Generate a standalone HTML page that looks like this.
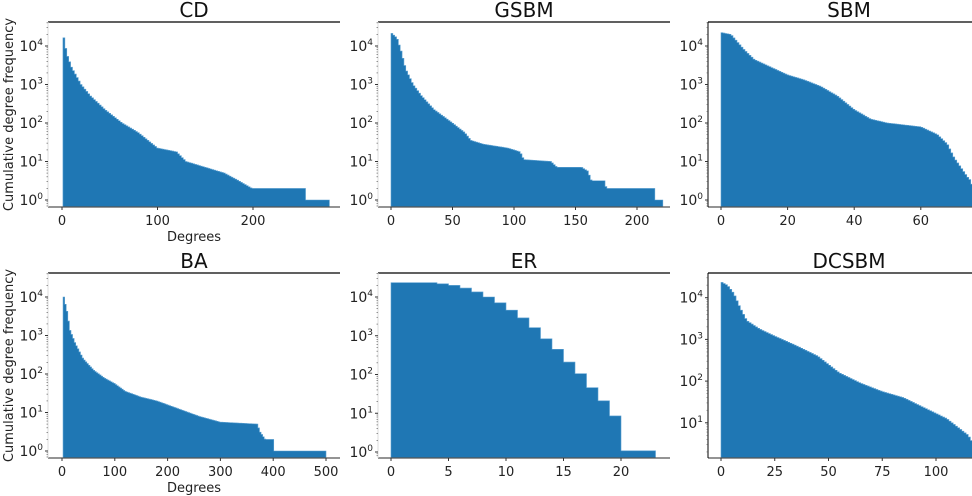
<!DOCTYPE html>
<html><head><meta charset="utf-8"><style>
html,body{margin:0;padding:0;background:#fff;}
svg{display:block;font-family:"DejaVu Sans","Liberation Sans",sans-serif;}
</style></head><body>
<svg id="s" width="972" height="496" viewBox="0 0 972 496" xmlns="http://www.w3.org/2000/svg"></svg>
<script>
const S=document.getElementById('s');
let h='';
function P(o){
 // o: ax [x0,x1,top,bot], xm:[deg0px, pxPerUnit], ym:[y10^0px, pxPerDecade], pts, bin, ticks, title, xmax, dark
 const [L,R,T,B]=o.ax;
 const X=d=>o.xm[0]+d*o.xm[1], Y=l=>o.ym[0]-l*o.ym[1];
 h+=`<clipPath id="c${o.id}"><rect x="${L}" y="${T}" width="${R-L}" height="${B-T}"/></clipPath>`;
 // data path
 let d='';
 if(o.steps){
   d=`M${X(o.steps[0][0])},${B}`;
   for(const [a,b,l] of o.steps){d+=`L${X(a)},${Y(l)}L${X(b)},${Y(l)}`;}
   d+=`L${X(o.steps[o.steps.length-1][1])},${B}Z`;
 } else {
   const p=o.pts;
   const f=x=>{for(let i=0;i<p.length-1;i++){if(x>=p[i][0]&&x<=p[i+1][0]){const t=(x-p[i][0])/((p[i+1][0]-p[i][0])||1);return p[i][1]+t*(p[i+1][1]-p[i][1]);}}return p[p.length-1][1];};
   const x0=p[0][0],x1=p[p.length-1][0];
   d=`M${X(x0)},${B}`;
   for(let x=x0;x<x1;x+=o.bin){const l=f(x+o.bin/2);d+=`L${X(x)},${Y(l)}L${X(Math.min(x+o.bin,x1))},${Y(l)}`;}
   d+=`L${X(x1)},${B}Z`;
 }
 h+=`<path d="${d}" fill="#1f77b4" stroke="#5a9fd0" stroke-width="0.6" clip-path="url(#c${o.id})"/>`;
 // spines
 h+=`<line x1="${L}" y1="${T}" x2="${R}" y2="${T}" stroke="#000" stroke-width="1.2"/>`;
 h+=`<line x1="${L}" y1="${B}" x2="${R}" y2="${B}" stroke="#555" stroke-width="1.2"/>`;
 h+=`<line x1="${L}" y1="${T}" x2="${L}" y2="${B}" stroke="${o.dark?'#000':'#ddd'}" stroke-width="1"/>`;
 // y ticks
 for(let k=o.y0||0;k<=4;k++){const y=Y(k);
   h+=`<line x1="${L-3}" y1="${y}" x2="${L}" y2="${y}" stroke="#333"/>`;
   h+=`<text x="${L-5}" y="${y+5}" font-size="14" fill="#222" text-anchor="end">10<tspan dy="-6" font-size="9">${k}</tspan></text>`;
   for(let m=2;m<10;m++){const ym=Y(k+Math.log10(m));if(ym>T&&ym<B)h+=`<line x1="${L-1.5}" y1="${ym}" x2="${L}" y2="${ym}" stroke="#555" stroke-width="0.6"/>`;}
 }
 for(let m=2;m<10;m++){const ym=Y((o.y0||0)-1+Math.log10(m));if(ym>T&&ym<B)h+=`<line x1="${L-1.5}" y1="${ym}" x2="${L}" y2="${ym}" stroke="#555" stroke-width="0.6"/>`;}
 // x ticks
 for(const t of o.ticks){const x=X(t);
   h+=`<line x1="${x}" y1="${B}" x2="${x}" y2="${B+3}" stroke="#333"/>`;
   h+=`<text x="${x}" y="${B+18}" font-size="13" fill="#222" text-anchor="middle">${t}</text>`;}
 h+=`<text x="${(L+R)/2}" y="${T-5}" font-size="20" fill="#111" text-anchor="middle">${o.title}</text>`;
 if(o.xl)h+=`<text x="${(L+R)/2}" y="${B+34}" font-size="13" fill="#222" text-anchor="middle">Degrees</text>`;
 if(o.yl)h+=`<text transform="translate(13,${(T+B)/2}) rotate(-90)" font-size="13" fill="#222" text-anchor="middle">Cumulative degree frequency</text>`;
}
P({id:1,ax:[48,340,22,207],xm:[62,0.955],ym:[200,38.5],bin:2,title:'CD',ticks:[0,100,200],xl:1,yl:1,
 pts:[[1,4.35],[5,3.8],[10,3.45],[20,3.0],[30,2.7],[45,2.35],[63,2.0],[80,1.75],[100,1.35],[120,1.25],[130,1.0],[150,0.85],[170,0.7],[185,0.5],[199,0.3],[254,0.3],[255,0],[280,0]]});
P({id:2,ax:[378,670,22,207],xm:[391,1.23],ym:[200,38.5],bin:1.5,title:'GSBM',ticks:[0,50,100,150,200],
 pts:[[0,4.35],[5,4.2],[8,3.9],[12,3.4],[18,3.0],[25,2.7],[35,2.35],[50,2.0],[60,1.75],[65,1.55],[75,1.45],[95,1.35],[105,1.25],[108,1.05],[130,1.0],[135,0.85],[155,0.85],[160,0.75],[163,0.5],[174,0.5],[175,0.3],[214,0.3],[215,0],[221,0]]});
P({id:3,ax:[708,990,22,207],xm:[721,3.33],ym:[200,38.5],bin:0.6,title:'SBM',ticks:[0,20,40,60,80],dark:1,
 pts:[[0,4.35],[3,4.3],[5,4.1],[7,3.9],[10,3.65],[15,3.45],[20,3.25],[25,3.12],[30,2.95],[35,2.7],[40,2.35],[45,2.1],[50,2.0],[55,1.95],[60,1.9],[65,1.7],[68,1.45],[70,1.1],[72,0.85],[74,0.6],[75,0.5],[76,0.2],[78,0]]});
P({id:4,ax:[48,340,273,458],xm:[62,0.528],ym:[451,38.5],bin:3,title:'BA',ticks:[0,100,200,300,400,500],xl:1,yl:1,
 pts:[[2,4.1],[5,3.9],[10,3.6],[15,3.15],[25,2.8],[40,2.4],[60,2.1],[80,1.9],[100,1.75],[120,1.55],[150,1.4],[180,1.3],[200,1.2],[230,1.05],[260,0.9],[300,0.75],[370,0.7],[375,0.5],[385,0.3],[400,0.3],[402,0],[500,0]]});
P({id:5,ax:[378,670,273,458],xm:[391,11.5],ym:[452,38.75],title:'ER',ticks:[0,5,10,15,20],
 steps:[[0,4,4.37],[4,5,4.34],[5,6,4.3],[6,7,4.23],[7,8,4.13],[8,9,4.0],[9,10,3.85],[10,11,3.66],[11,12,3.46],[12,13,3.21],[13,14,2.92],[14,15,2.65],[15,16,2.32],[16,17,2.02],[17,18,1.66],[18,19,1.32],[19,20,0.93],[20,23,0.03]]});
P({id:6,ax:[708,990,273,458],xm:[721,2.15],ym:[464.5,41.7],bin:1,y0:1,title:'DCSBM',ticks:[0,25,50,75,100],dark:1,
 pts:[[0,4.38],[3,4.3],[6,4.1],[9,3.75],[12,3.45],[18,3.25],[25,3.08],[35,2.85],[45,2.6],[55,2.2],[65,1.95],[75,1.75],[85,1.6],[95,1.35],[105,1.1],[110,0.9],[115,0.7],[118,0.45],[120,0.2]]});
S.innerHTML=h;
</script>
</body></html>
